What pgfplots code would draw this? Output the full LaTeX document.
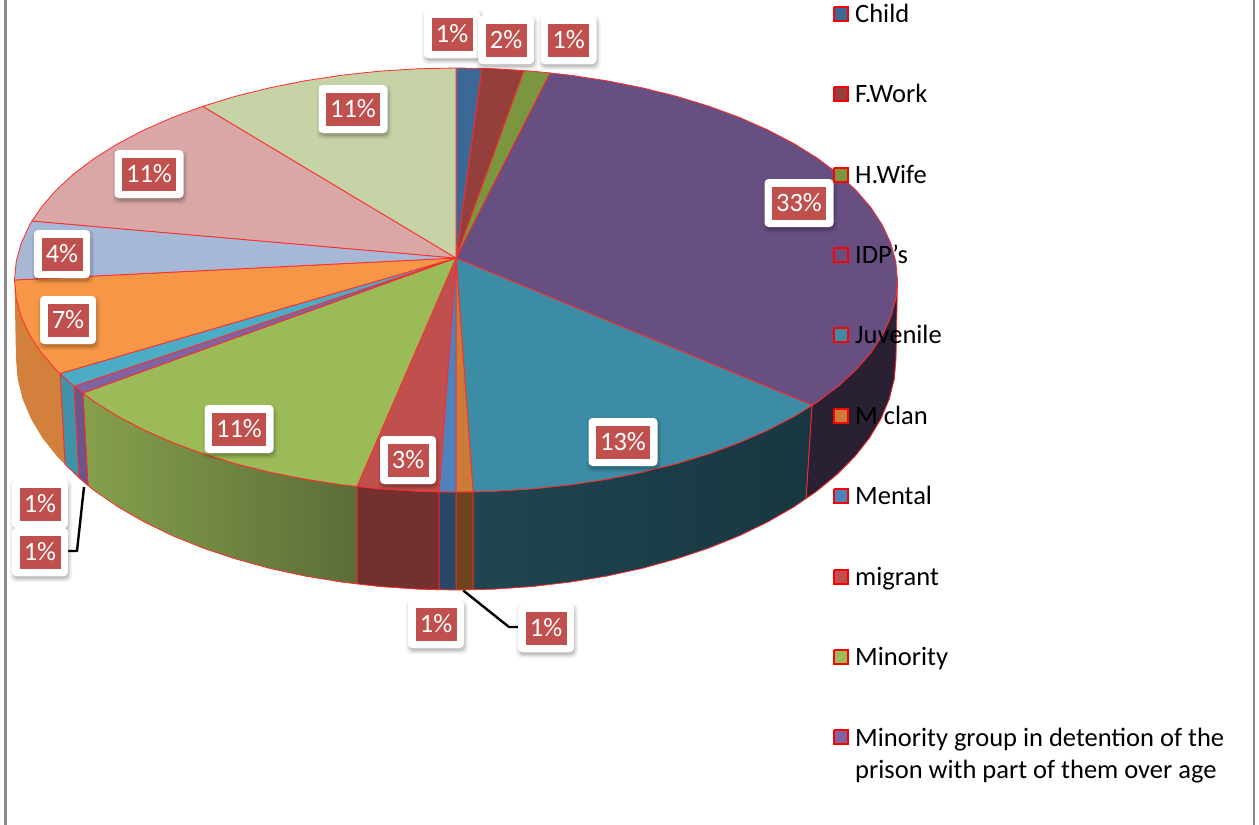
\documentclass[border=0pt]{standalone}
\usepackage{fontspec}
\setmainfont{Carlito}
\usepackage{pgfplots}
\pgfplotsset{compat=1.18}
\definecolor{cChild}{HTML}{3C6898}
\definecolor{cFWork}{HTML}{953F3C}
\definecolor{cHWife}{HTML}{7A963F}
\definecolor{cIDP}{HTML}{684F82}
\definecolor{cJuv}{HTML}{3C8CA5}
\definecolor{cMclan}{HTML}{CC7B38}
\definecolor{cMental}{HTML}{4F81BD}
\definecolor{cMigrant}{HTML}{C0504D}
\definecolor{cMinor}{HTML}{9BBB59}
\definecolor{cGroup}{HTML}{8064A2}
\definecolor{cTeal}{HTML}{4BACC6}
\definecolor{cOrange}{HTML}{F79646}
\definecolor{cBlueG}{HTML}{A7B7D6}
\definecolor{cPink}{HTML}{D9A7A6}
\definecolor{cLGreen}{HTML}{C5D3A6}
\definecolor{edge}{HTML}{FF2A2A}
\definecolor{lab}{HTML}{C0504D}
\definecolor{juvL}{HTML}{1F4652}
\definecolor{juvR}{HTML}{183640}
\definecolor{minL}{HTML}{86A04C}
\definecolor{minR}{HTML}{5B6D38}
\tikzset{
  pct/.style={fill=white,rounded corners=4pt,inner sep=0pt,minimum height=48pt,minimum width=#1},
  shd/.style 2 args={fill=black,opacity=#2,rounded corners=5pt,inner sep=0pt,minimum height=#1},
  pcti/.style={fill=lab,text=white,inner sep=0pt,minimum height=33pt,minimum width=#1,
    font=\fontsize{26.5}{30}\selectfont},
  lg/.style={anchor=base west,inner sep=0pt,text=black,font=\fontsize{26.5}{30}\selectfont}
}
\newcommand{\pctlabel}[3][56pt]{%
  \node[shd={54pt}{.05},minimum width=\dimexpr#1+6pt\relax,xshift=1pt,yshift=-3pt] at (axis cs:#2) {};
  \node[shd={51pt}{.08},minimum width=\dimexpr#1+3pt\relax,xshift=1pt,yshift=-3pt] at (axis cs:#2) {};
  \node[shd={48pt}{.12},minimum width=#1,xshift=1pt,yshift=-3pt] at (axis cs:#2) {};
  \node[pct=#1] at (axis cs:#2) {};
  \node[pcti=\dimexpr#1-15pt\relax] at (axis cs:#2) {#3};}
\begin{document}
\begin{tikzpicture}
\begin{axis}[
  hide axis, scale only axis, width=1259pt, height=825pt,
  xmin=0, xmax=1259, ymin=0, ymax=825, y dir=reverse, clip=false,
  every axis plot/.append style={no markers, forget plot, sharp plot, line join=round},
  wedge/.style={fill=#1,draw=edge,line width=0.8pt},
  side/.style={fill=#1,draw=edge,line width=0.8pt},
  lgk/.style={fill=#1,draw=red,line width=2.4pt,line join=miter},
]
% frame
\addplot[draw=black!45,line width=2.6pt] coordinates {(5.5,0) (5.5,825)};
\addplot[draw=black!45,line width=2.6pt] coordinates {(1254,0) (1254,825)};
% side faces
\addplot[side=cIDP!40!black] coordinates {(897.5,280) (895.8,298.5) (890.8,316.8) (882.4,334.9) (870.9,352.5) (856.1,369.6) (838.4,386) (817.7,401.6) (812,405.2) (806,498.6) (816.4,491.5) (837,474.5) (854.8,456.6) (869.5,438) (881,418.8) (889.3,399.1) (894.3,379.1) (896,359) (897.5,280)};
\addplot[draw=edge,line width=0.8pt,left color=juvL,right color=juvR] coordinates {(812,405.2) (794.2,416.3) (768.2,429.9) (739.8,442.4) (709.2,453.7) (676.8,463.6) (642.6,472.1) (607,479.2) (570.3,484.8) (532.6,488.8) (494.5,491.2) (473,491.8) (473,589.7) (494.4,589.1) (532.4,586.5) (569.9,582.1) (606.5,576.1) (642,568.4) (676,559) (708.4,548.2) (738.8,536) (767.1,522.3) (793,507.5) (806,498.6) (812,405.2)};
\addplot[side=cMclan!55!black] coordinates {(473,491.8) (456,492) (456,590) (473,589.7) (473,491.8)};
\addplot[side=cMental!55!black] coordinates {(456,492) (439,491.8) (439,589.7) (456,590) (456,492)};
\addplot[side=cMigrant!60!black] coordinates {(439,491.8) (417.5,491.2) (379.4,488.8) (357,486.4) (357,583.9) (379.6,586.5) (417.6,589.1) (439,589.7) (439,491.8)};
\addplot[draw=edge,line width=0.8pt,left color=minL,right color=minR] coordinates {(357,486.4) (341.7,484.8) (305,479.2) (269.4,472.1) (235.2,463.6) (202.8,453.7) (172.2,442.4) (143.8,429.9) (117.8,416.3) (94.3,401.6) (83,393) (88,485.5) (95.6,491.5) (119,507.5) (144.9,522.3) (173.2,536) (203.6,548.2) (236,559) (270,568.4) (305.5,576.1) (342.1,582.1) (357,583.9) (357,486.4)};
\addplot[side=cGroup!85!black] coordinates {(83,393) (74,386.3) (79,477.8) (88,485.5) (83,393)};
\addplot[side=cTeal!85!black] coordinates {(74,386.3) (60,373.5) (65,464.4) (79,477.8) (74,386.3)};
\addplot[fill=cOrange!85!black,draw=none] coordinates {(60,373.5) (55.9,369.6) (41.1,352.5) (29.6,334.9) (21.2,316.8) (16.2,298.5) (14.5,280) (16,359) (17.7,379.1) (22.7,399.1) (31,418.8) (42.5,438) (57.2,456.6) (65,464.4) (60,373.5)};
\addplot[draw=edge,line width=0.8pt] coordinates {(60,373.5) (65,464.4)};
% top faces
\addplot[wedge=cChild] coordinates {(456,258) (456,68) (482,68.4) (456,258)};
\addplot[wedge=cFWork] coordinates {(456,258) (482,68.4) (494.5,68.8) (524,70.6) (456,258)};
\addplot[wedge=cHWife] coordinates {(456,258) (524,70.6) (532.6,71.2) (550,73) (456,258)};
\addplot[wedge=cIDP] coordinates {(456,258) (550,73) (570.3,75.2) (607,80.8) (642.6,87.9) (676.8,96.4) (709.2,106.3) (739.8,117.6) (768.2,130.1) (794.2,143.7) (817.7,158.4) (838.4,174) (856.1,190.4) (870.9,207.5) (882.4,225.1) (890.8,243.2) (895.8,261.5) (897.5,280) (895.8,298.5) (890.8,316.8) (882.4,334.9) (870.9,352.5) (856.1,369.6) (838.4,386) (817.7,401.6) (812,405.2) (456,258)};
\addplot[wedge=cJuv] coordinates {(456,258) (812,405.2) (794.2,416.3) (768.2,429.9) (739.8,442.4) (709.2,453.7) (676.8,463.6) (642.6,472.1) (607,479.2) (570.3,484.8) (532.6,488.8) (494.5,491.2) (473,491.8) (456,258)};
\addplot[wedge=cMclan] coordinates {(456,258) (473,491.8) (456,492) (456,258)};
\addplot[wedge=cMental] coordinates {(456,258) (456,492) (439,491.8) (456,258)};
\addplot[wedge=cMigrant] coordinates {(456,258) (439,491.8) (417.5,491.2) (379.4,488.8) (357,486.4) (456,258)};
\addplot[wedge=cMinor] coordinates {(456,258) (357,486.4) (341.7,484.8) (305,479.2) (269.4,472.1) (235.2,463.6) (202.8,453.7) (172.2,442.4) (143.8,429.9) (117.8,416.3) (94.3,401.6) (83,393) (456,258)};
\addplot[wedge=cGroup] coordinates {(456,258) (83,393) (74,386.3) (456,258)};
\addplot[wedge=cTeal] coordinates {(456,258) (74,386.3) (60,373.5) (456,258)};
\addplot[wedge=cOrange] coordinates {(456,258) (60,373.5) (55.9,369.6) (41.1,352.5) (29.6,334.9) (21.2,316.8) (16.2,298.5) (14.5,280) (456,258)};
\addplot[wedge=cBlueG] coordinates {(456,258) (14.5,280) (16.2,261.5) (21.2,243.2) (29.6,225.1) (32,221) (456,258)};
\addplot[wedge=cPink] coordinates {(456,258) (32,221) (41.1,207.5) (55.9,190.4) (73.6,174) (94.3,158.4) (117.8,143.7) (143.8,130.1) (172.2,117.6) (202.8,106.3) (456,258)};
\addplot[wedge=cLGreen] coordinates {(456,258) (202.8,106.3) (235.2,96.4) (269.4,87.9) (305,80.8) (341.7,75.2) (379.4,71.2) (417.5,68.8) (456,68) (456,258)};
% leader lines
\addplot[draw=black,line width=2.4pt] coordinates {(84,487) (77,551) (68,551)};
\addplot[draw=black,line width=2.4pt] coordinates {(463.3,590.5) (509,627) (519,627)};
% data labels
\pctlabel{452,34}{1\%}
\pctlabel{506,40}{2\%}
\pctlabel{568.5,40}{1\%}
\pctlabel[69pt]{799,203}{33\%}
\pctlabel[69pt]{623,442}{13\%}
\pctlabel[69pt]{353,109}{11\%}
\pctlabel[69pt]{149,174}{11\%}
\pctlabel[69pt]{239,429}{11\%}
\pctlabel{62,254}{4\%}
\pctlabel{68,320}{7\%}
\pctlabel{408,460}{3\%}
\pctlabel{40,504}{1\%}
\pctlabel{40,552}{1\%}
\pctlabel{436,624}{1\%}
\pctlabel{546,628}{1\%}
% legend keys
\addplot[lgk=cChild] coordinates {(834,7) (848,7) (848,21) (834,21) (834,7)};
\addplot[lgk=cFWork] coordinates {(834,87) (848,87) (848,101) (834,101) (834,87)};
\addplot[lgk=cHWife] coordinates {(834,168) (848,168) (848,182) (834,182) (834,168)};
\addplot[lgk=cIDP] coordinates {(834,248) (848,248) (848,262) (834,262) (834,248)};
\addplot[lgk=cJuv] coordinates {(834,328) (848,328) (848,342) (834,342) (834,328)};
\addplot[lgk=cMclan] coordinates {(834,409) (848,409) (848,423) (834,423) (834,409)};
\addplot[lgk=cMental] coordinates {(834,489) (848,489) (848,503) (834,503) (834,489)};
\addplot[lgk=cMigrant] coordinates {(834,570) (848,570) (848,584) (834,584) (834,570)};
\addplot[lgk=cMinor] coordinates {(834,650) (848,650) (848,664) (834,664) (834,650)};
\addplot[lgk=cGroup] coordinates {(834,730) (848,730) (848,744) (834,744) (834,730)};
\node[lg] at (axis cs:855,22) {Child};
\node[lg] at (axis cs:855,102) {F.Work};
\node[lg] at (axis cs:855,183) {H.Wife};
\node[lg] at (axis cs:855,263) {IDP’s};
\node[lg] at (axis cs:855,343) {Juvenile};
\node[lg] at (axis cs:855,424) {M clan};
\node[lg] at (axis cs:855,504) {Mental};
\node[lg] at (axis cs:855,585) {migrant};
\node[lg] at (axis cs:855,665) {Minority};
\node[lg] at (axis cs:855,746) {Minority group in detention of the};
\node[lg] at (axis cs:855,778) {prison with part of them over age};
\end{axis}
\pgfresetboundingbox
\path[use as bounding box] (0,0) rectangle (1259pt,825pt);
\end{tikzpicture}
\end{document}
